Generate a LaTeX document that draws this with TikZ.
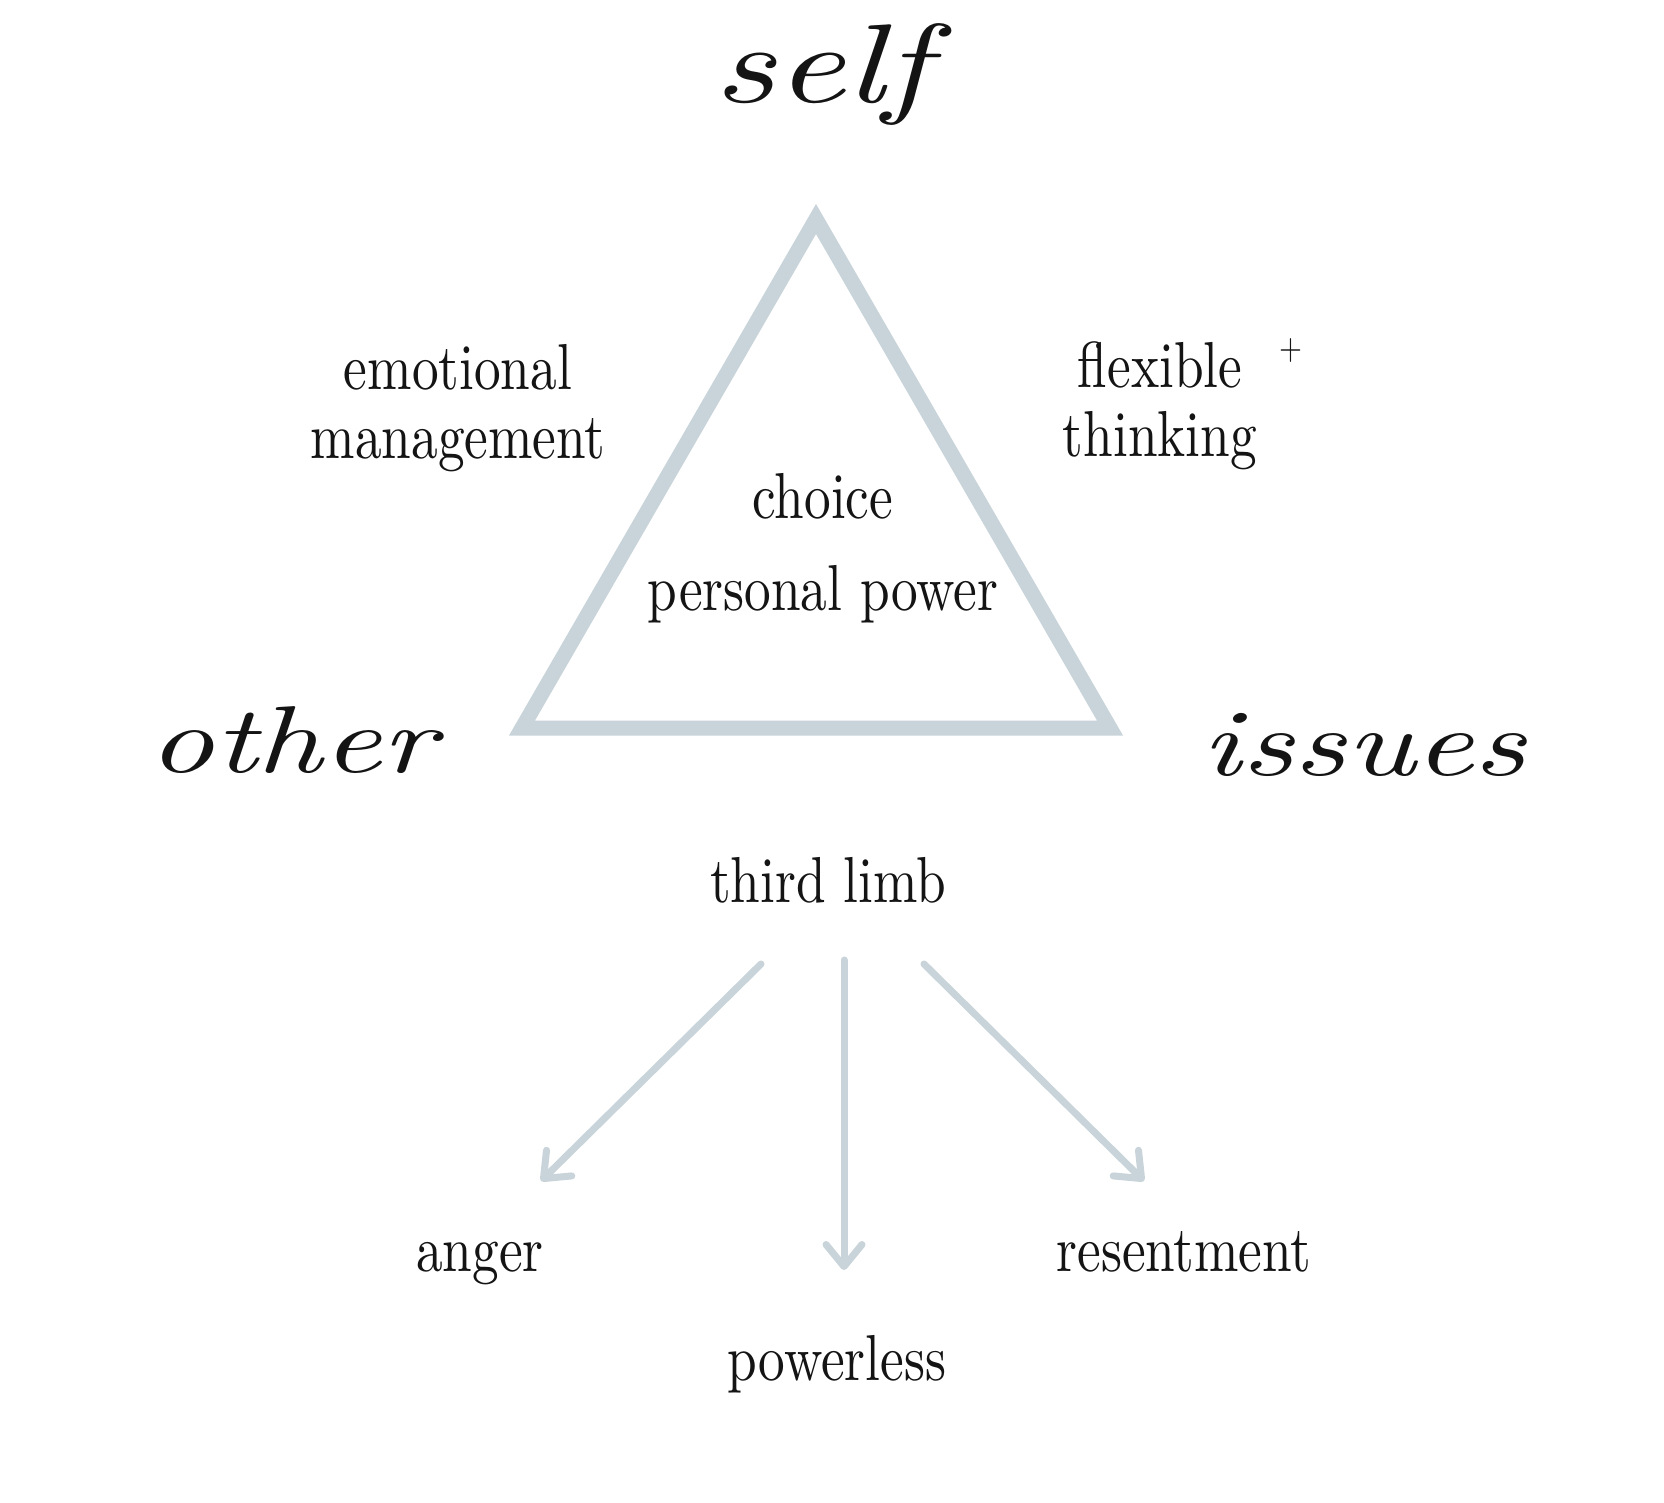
\documentclass[tikz,border=0pt]{standalone}
\usepackage{fontspec}
\usetikzlibrary{arrows.meta}
\newfontfamily\bodyfont{lmroman10-regular}[Extension=.otf,FakeStretch=0.82]
\newfontfamily\handfont{lmroman10-italic}[Extension=.otf,FakeStretch=1.35]
\definecolor{trigrey}{RGB}{200,212,218}
\definecolor{ink}{RGB}{20,20,20}
\tikzset{
  lbl/.style={font=\bodyfont\fontsize{65}{69}\selectfont, text=ink, inner sep=0pt, anchor=base},
  plus/.style={font=\bodyfont\fontsize{36}{40}\selectfont, text=ink, inner sep=0pt},
  hand/.style={font=\handfont\fontsize{95}{100}\selectfont, text=ink, inner sep=0pt, anchor=base},
  triline/.style={draw=trigrey, line width=15pt, line join=miter},
  arr/.style={draw=trigrey, line width=7pt, line cap=round,
    -{Straight Barb[length=22pt,width=36pt,round]}}
}
\begin{document}
\begin{tikzpicture}[x=1pt,y=-1pt]
\path[use as bounding box, fill=white] (0,0) rectangle (1664,1502);
% triangle
\coordinate (tA) at (816,219);
\coordinate (tB) at (1110,728);
\coordinate (tC) at (522,728);
\draw[triline] (tA) -- (tB) -- (tC) -- cycle;
% script words
\node[hand, font=\handfont\fontsize{112}{116}\selectfont] (self) at (822,102) {self};
\node[hand] (other) at (292,772) {other};
\node[hand] (issues) at (1364,775) {issues};
% labels
\node[lbl] (emo1) at (458,389) {emotional};
\node[lbl] (emo2) at (458,458) {management};
\node[lbl] (flex1) at (1160,387) {flexible};
\node[lbl] (flex2) at (1160,456) {thinking};
\node[plus] (plus) at (1291,350) {+};
\node[lbl] (choice) at (823,518) {choice};
\node[lbl] (power) at (823,610) {personal power};
\node[lbl] (third) at (828,902) {third limb};
\node[lbl] (anger) at (480,1271) {anger};
\node[lbl] (resent) at (1184,1271) {resentment};
\node[lbl] (powerless) at (837,1380) {powerless};
% arrows
\coordinate (s1) at (761,964);
\coordinate (e1) at (541,1181);
\coordinate (s2) at (844,960);
\coordinate (e2) at (844,1270);
\coordinate (s3) at (924,964);
\coordinate (e3) at (1144,1181);
\draw[arr] (s1) -- (e1);
\draw[arr] (s2) -- (e2);
\draw[arr] (s3) -- (e3);
\end{tikzpicture}
\end{document}
